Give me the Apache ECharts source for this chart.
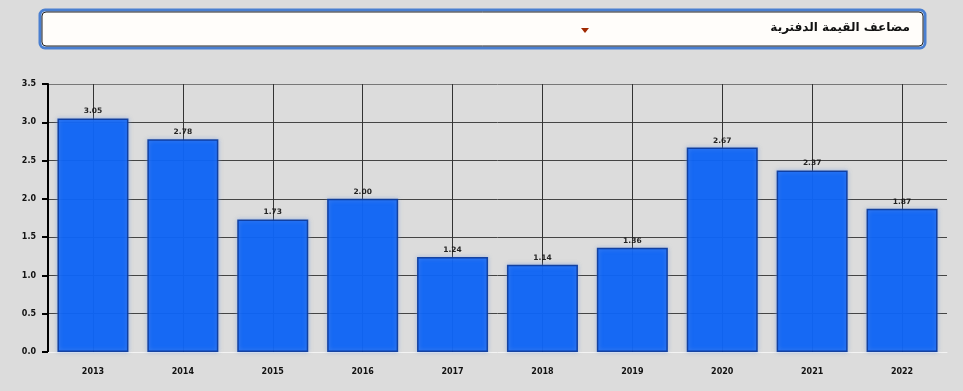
<!DOCTYPE html>
<html><head><meta charset="utf-8">
<script src="https://cdn.jsdelivr.net/npm/echarts@6/dist/echarts.min.js"></script>
<style>html,body{margin:0;padding:0;background:#dcdcdc;}#c{width:963px;height:391px;}</style>
</head><body><div id="c"></div>
<script>
const categories = ['2013','2014','2015','2016','2017','2018','2019','2020','2021','2022'];
const values = [3.05, 2.78, 1.73, 2.00, 1.24, 1.14, 1.36, 2.67, 2.37, 1.87];
const titleText = 'مضاعف القيمة الدفترية';

const chart = echarts.init(document.getElementById('c'));
chart.setOption({
  backgroundColor: '#dcdcdc',
  animation: false,
  graphic: [
    {type:'rect', shape:{x:40,y:10,width:885,height:38,r:5}, style:{fill:'#fffdfa', stroke:'#4a7fd0', lineWidth:3}},
    {type:'rect', shape:{x:42,y:12,width:881,height:34,r:4}, style:{fill:'none', stroke:'#222', lineWidth:1}},
    {type:'polygon', shape:{points:[[581,28],[589,28],[585,33]]}, style:{fill:'#a02800'}},
    {type:'text', style:{text:titleText, x:910, y:28, align:'right', verticalAlign:'middle', font:'bold 12px "DejaVu Sans"', fill:'#111'}}
  ],
  grid: {left:48, right:16, top:84, bottom:39, containLabel:false},
  xAxis: {
    type:'category', data:categories,
    axisLine:{show:true, lineStyle:{color:'#f4f4f4', width:1}},
    axisTick:{show:true, alignWithLabel:true, length:4, lineStyle:{color:'#ffffff'}, inside:true},
    axisLabel:{color:'#111', fontWeight:'bold', fontSize:8, fontFamily:'DejaVu Sans', margin:16},
    splitLine:{show:false}
  },
  yAxis: {
    type:'value', min:0, max:3.5, interval:0.5,
    axisLine:{show:true, lineStyle:{color:'#000', width:2}},
    axisTick:{show:true, length:6, lineStyle:{color:'#000', width:2}},
    axisLabel:{color:'#111', fontWeight:'bold', fontSize:8, fontFamily:'DejaVu Sans', margin:12, formatter:v=>v.toFixed(1)},
    splitLine:{show:true, lineStyle:{color:['#dcdcdc','#444','#444','#444','#444','#444','#444','#777'], width:1}}
  },
  series: [{
    type:'line', data:[], z:1, silent:true,
    markLine:{
      silent:true, symbol:'none', label:{show:false}, animation:false, z:1,
      lineStyle:{color:'#333', type:'solid', width:1},
      data: categories.map(c=>({xAxis:c}))
    }
  },{
    type:'bar', data:values, barWidth:'79%', z:3,
    itemStyle:{color:'#0a62f5', borderColor:'#0b3a9a', borderWidth:1.5, opacity:0.92, shadowColor:'rgba(120,160,230,0.6)', shadowBlur:4},
    label:{show:true, position:'top', distance:3, color:'#111', fontWeight:'bold', fontSize:7.5, fontFamily:'DejaVu Sans', formatter:p=>p.value.toFixed(2)}
  }]
});
</script></body></html>
